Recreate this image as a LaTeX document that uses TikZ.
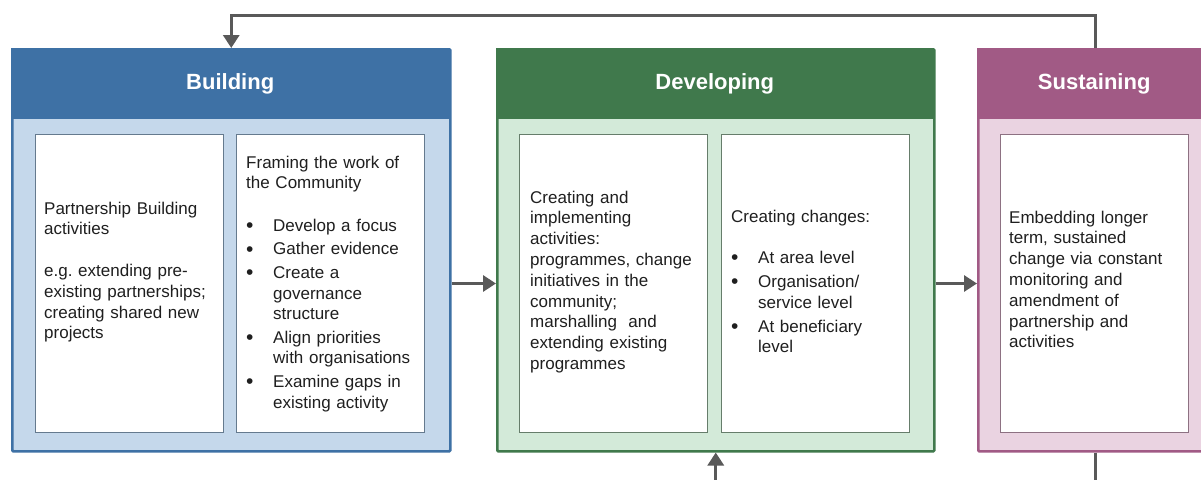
\documentclass[tikz,border=0pt]{standalone}
\usepackage{fontspec}
\setmainfont{Liberation Sans}
\usetikzlibrary{positioning,arrows.meta}

\definecolor{blddark}{RGB}{62,113,165}
\definecolor{bldlight}{RGB}{197,216,235}
\definecolor{devdark}{RGB}{64,121,76}
\definecolor{devlight}{RGB}{211,234,217}
\definecolor{susdark}{RGB}{161,90,133}
\definecolor{suslight}{RGB}{234,211,225}
\definecolor{arrowgray}{RGB}{89,89,89}

\newcommand{\itm}{\makebox[27pt][l]{\raisebox{-1.3pt}{\fontsize{21}{20}\selectfont\textbullet}}}
\newcommand{\hng}{\hspace*{27pt}}

\begin{document}
\frenchspacing
\begin{tikzpicture}[x=1pt,y=-1pt,
    stage/.style={draw=#1dark, line width=2.5pt, fill=#1light, rounded corners=1pt,
        anchor=north west, minimum height=402},
    head/.style={fill=#1dark, text=white, anchor=north west, minimum height=71,
        font=\fontsize{22}{26}\selectfont\bfseries},
    card/.style={draw=#1dark!40!gray, line width=1pt, fill=white, anchor=north west,
        minimum width=188, minimum height=298},
    txt/.style={anchor=base west, inner sep=0pt, text width=190pt, align=left,
        text=black!88, font=\fontsize{17}{20.8}\selectfont},
    conn/.style={draw=arrowgray, line width=3pt, -{Triangle[length=13pt,width=16pt]}}]

    \useasboundingbox[fill=white] (0,0) rectangle (1201,479);

    % the three stages
    \node[stage=bld, minimum width=438] (bld) at (11,48) {};
    \node[head=bld, minimum width=438] (bldH) at (11,48) {Building};
    \node[stage=dev, minimum width=437] (dev) at (496,48) {};
    \node[head=dev, minimum width=437] (devH) at (496,48) {Developing};
    \node[stage=sus, minimum width=234] (sus) at (977,48) {};
    \node[head=sus, minimum width=234] (susH) at (977,48) {Sustaining};

    % white cards
    \node[card=bld] (bldA) at (35,134) {};
    \node[card=bld] (bldB) at (236,134) {};
    \node[card=dev] (devA) at (519,134) {};
    \node[card=dev] (devB) at (721,134) {};
    \node[card=sus] (susA) at (1000,134) {};

    \node[txt] (bldAt) at (44,214) {Partnership Building\\activities\\[20.8pt]
        e.g. extending pre-\\existing partnerships;\\creating shared new\\projects};
    \node[txt] (bldBt) at (246,168) {Framing the work of\\the Community\\[22pt]
        \itm Develop a focus\\[2.5pt]
        \itm Gather evidence\\[2.5pt]
        \itm Create a\\ \hng governance\\ \hng structure\\[2.5pt]
        \itm Align priorities\\ \hng with organisations\\[2.5pt]
        \itm Examine gaps in\\ \hng existing activity};
    \node[txt] (devAt) at (530,203) {Creating and\\implementing\\activities:\\programmes, change\\initiatives in the\\community;\\marshalling\ \ and\\extending existing\\programmes};
    \node[txt] (devBt) at (731,222) {Creating changes:\\[20.8pt]
        \itm At area level\\[3pt]
        \itm Organisation/\\ \hng service level\\[3pt]
        \itm At beneficiary\\ \hng level};
    \node[txt] (susAt) at (1009,223) {Embedding longer\\term, sustained\\change via constant\\monitoring and\\amendment of\\partnership and\\activities};

    % connectors
    \coordinate[below=40pt of sus.south] (susOut);
    \coordinate[below=40pt of dev.south] (devIn);
    \draw[conn] (bld.east |- bldA) -- (dev.west |- bldA);
    \draw[conn] (dev.east |- devA) -- (sus.west |- devA);
    \draw[conn] (sus.north) -- ++(0,-33) -| (bld.north);
    \draw[conn, -] (sus.south) -- (susOut);
    \draw[conn] (devIn) -- (dev.south);
\end{tikzpicture}
\end{document}
